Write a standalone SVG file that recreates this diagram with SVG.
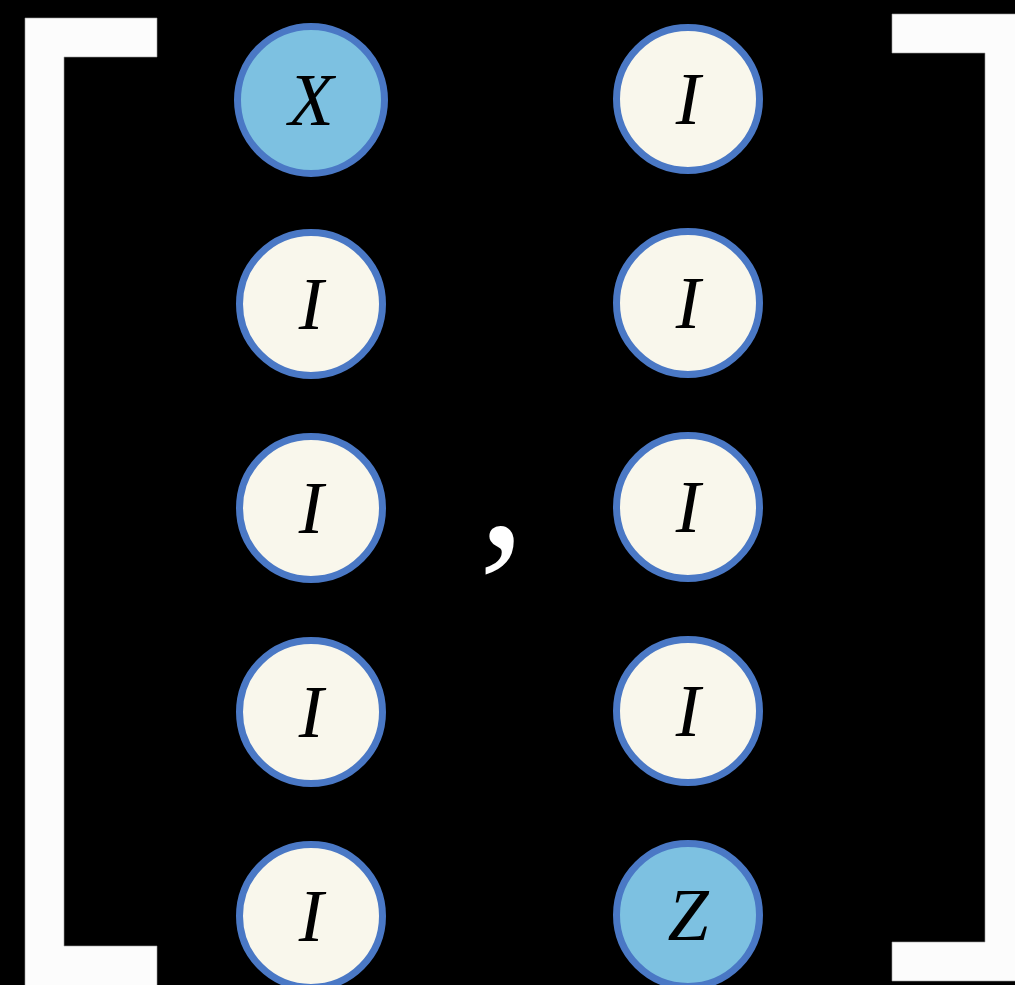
<svg xmlns="http://www.w3.org/2000/svg" width="1015" height="985" viewBox="0 0 1015 985">
<style>
.br{fill:#fcfcfc;stroke:#9a9a9a;stroke-width:0.6}
.n circle{stroke:#4a78c5;stroke-width:7}
.id circle{fill:#f9f7ec}
.op circle{fill:#7dc1e1}
.n text{font-family:"Liberation Serif",serif;font-style:italic;font-size:74px;fill:#000;text-anchor:middle}
</style>
<rect width="1015" height="985" fill="#000"/>
<g id="bracket-left">
<path class="br" d="M25 18H157V57H64V946H157V990H25Z"/>
</g>
<g id="bracket-right">
<path class="br" d="M892 14H1020V981H892V942H985V53H892Z"/>
</g>
<g id="n-l1" class="n op"><circle cx="311" cy="100" r="73.5"/><text x="311" y="125">X</text></g>
<g id="n-l2" class="n id"><circle cx="311" cy="304" r="71.5"/><text x="311" y="329">I</text></g>
<g id="n-l3" class="n id"><circle cx="311" cy="508" r="71.5"/><text x="311" y="533">I</text></g>
<g id="n-l4" class="n id"><circle cx="311" cy="712" r="71.5"/><text x="311" y="737">I</text></g>
<g id="n-l5" class="n id"><circle cx="311" cy="916" r="71.5"/><text x="311" y="941">I</text></g>
<g id="n-r1" class="n id"><circle cx="688" cy="99" r="71.5"/><text x="688" y="124">I</text></g>
<g id="n-r2" class="n id"><circle cx="688" cy="303" r="71.5"/><text x="688" y="328">I</text></g>
<g id="n-r3" class="n id"><circle cx="688" cy="507" r="71.5"/><text x="688" y="532">I</text></g>
<g id="n-r4" class="n id"><circle cx="688" cy="711" r="71.5"/><text x="688" y="736">I</text></g>
<g id="n-r5" class="n op"><circle cx="688" cy="915" r="71.5"/><text x="688" y="940">Z</text></g>
<g id="sep"><text x="502" y="545" font-family="Liberation Serif, serif" font-size="188" fill="#fff" text-anchor="middle">,</text></g>
<g id="connectors"/>
</svg>
